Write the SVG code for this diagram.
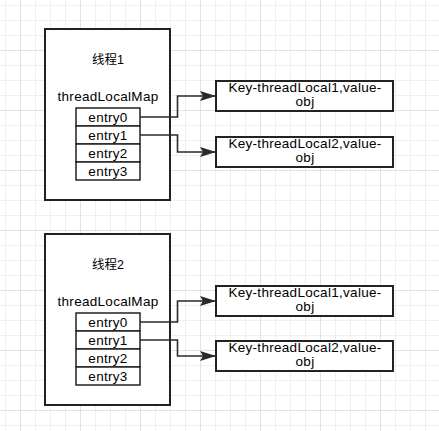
<svg xmlns="http://www.w3.org/2000/svg" width="439" height="431" viewBox="0 0 439 431">
<style>
.bg{fill:#ffffff}
.minor{stroke:#efefef;stroke-width:1;fill:none}
.major{stroke:#e2e2e2;stroke-width:1;fill:none}
.box{fill:#ffffff;stroke:#222222;stroke-width:2}
.row{fill:#ffffff;stroke:#222222;stroke-width:1.5}
.conn{fill:none;stroke:#2a2a2a;stroke-width:1.6}
text{font-family:"Liberation Sans","Noto Sans CJK SC",Arial,sans-serif;fill:#000000;text-anchor:middle}
.t{font-size:13.5px;letter-spacing:0.3px}
.title{font-size:12.5px}
</style>
<defs>
<marker id="arr" markerUnits="userSpaceOnUse" markerWidth="17" markerHeight="11" refX="16" refY="5" orient="auto">
<path d="M0,0 L16,5 L0,10 L3,5 Z" fill="#2a2a2a"/>
</marker>
</defs>
<rect class="bg" x="0" y="0" width="439" height="431"/>
<g id="grid">
<path class="minor" d="M5.5 0V431M20.5 0V431M35.5 0V431M50.5 0V431M65.5 0V431M80.5 0V431M95.5 0V431M110.5 0V431M125.5 0V431M140.5 0V431M155.5 0V431M170.5 0V431M185.5 0V431M200.5 0V431M215.5 0V431M230.5 0V431M245.5 0V431M260.5 0V431M275.5 0V431M290.5 0V431M305.5 0V431M320.5 0V431M335.5 0V431M350.5 0V431M365.5 0V431M380.5 0V431M395.5 0V431M410.5 0V431M425.5 0V431M0 5.5H439M0 20.5H439M0 35.5H439M0 50.5H439M0 65.5H439M0 80.5H439M0 95.5H439M0 110.5H439M0 125.5H439M0 140.5H439M0 155.5H439M0 170.5H439M0 185.5H439M0 200.5H439M0 215.5H439M0 230.5H439M0 245.5H439M0 260.5H439M0 275.5H439M0 290.5H439M0 305.5H439M0 320.5H439M0 335.5H439M0 350.5H439M0 365.5H439M0 380.5H439M0 395.5H439M0 410.5H439M0 425.5H439"/>
<path class="major" d="M20.5 0V431M80.5 0V431M140.5 0V431M200.5 0V431M260.5 0V431M320.5 0V431M380.5 0V431M0 50.5H439M0 110.5H439M0 170.5H439M0 230.5H439M0 290.5H439M0 350.5H439M0 410.5H439"/>
</g>
<g id="thread1">
<rect class="box" x="45" y="29" width="125" height="171"/>
<text class="title" x="108" y="63.5">线程1</text>
<text class="t" x="108" y="101">threadLocalMap</text>
</g>
<g id="t1-entry0"><rect class="row" x="76" y="108" width="64" height="18"/><text class="t" x="108" y="121.8">entry0</text></g>
<g id="t1-entry1"><rect class="row" x="76" y="126" width="64" height="18"/><text class="t" x="108" y="139.8">entry1</text></g>
<g id="t1-entry2"><rect class="row" x="76" y="144" width="64" height="18"/><text class="t" x="108" y="157.8">entry2</text></g>
<g id="t1-entry3"><rect class="row" x="76" y="162" width="64" height="18"/><text class="t" x="108" y="175.8">entry3</text></g>
<g id="t1-key1">
<rect class="box" x="216" y="81" width="177" height="30"/>
<text class="t" x="305" y="92">Key-threadLocal1,value-</text>
<text class="t" x="305" y="106.3">obj</text>
</g>
<g id="t1-key2">
<rect class="box" x="216" y="137" width="177" height="30"/>
<text class="t" x="305" y="148">Key-threadLocal2,value-</text>
<text class="t" x="305" y="162.3">obj</text>
</g>
<g id="thread2">
<rect class="box" x="45" y="234" width="125" height="171"/>
<text class="title" x="108" y="268.5">线程2</text>
<text class="t" x="108" y="306">threadLocalMap</text>
</g>
<g id="t2-entry0"><rect class="row" x="76" y="313" width="64" height="18"/><text class="t" x="108" y="326.8">entry0</text></g>
<g id="t2-entry1"><rect class="row" x="76" y="331" width="64" height="18"/><text class="t" x="108" y="344.8">entry1</text></g>
<g id="t2-entry2"><rect class="row" x="76" y="349" width="64" height="18"/><text class="t" x="108" y="362.8">entry2</text></g>
<g id="t2-entry3"><rect class="row" x="76" y="367" width="64" height="18"/><text class="t" x="108" y="380.8">entry3</text></g>
<g id="t2-key1">
<rect class="box" x="216" y="286" width="177" height="30"/>
<text class="t" x="305" y="297">Key-threadLocal1,value-</text>
<text class="t" x="305" y="311.3">obj</text>
</g>
<g id="t2-key2">
<rect class="box" x="216" y="341" width="177" height="30"/>
<text class="t" x="305" y="352">Key-threadLocal2,value-</text>
<text class="t" x="305" y="366.3">obj</text>
</g>
<g id="connectors">
<path class="conn" d="M140 117H177.5V96H216" marker-end="url(#arr)"/>
<path class="conn" d="M140 135H177.5V152H216" marker-end="url(#arr)"/>
<path class="conn" d="M140 322H177.5V301H216" marker-end="url(#arr)"/>
<path class="conn" d="M140 340H177.5V356H216" marker-end="url(#arr)"/>
</g>
</svg>
